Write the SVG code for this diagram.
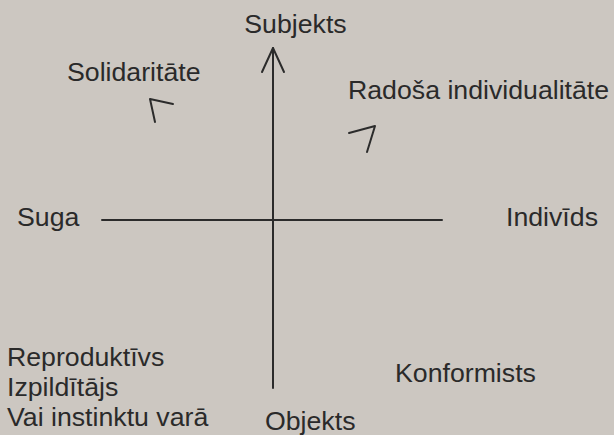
<svg xmlns="http://www.w3.org/2000/svg" width="614" height="435" viewBox="0 0 614 435">
<style>
text{font-family:"Liberation Sans",Arial,sans-serif;font-size:26.7px;fill:#2a2a2a}
.ln{stroke:#2b2b2b;stroke-width:2;fill:none;stroke-linecap:round;stroke-linejoin:round}
</style>
<rect width="614" height="435" fill="#ccc7c1"/>
<g id="connectors">
<line class="ln" x1="273" y1="388" x2="273" y2="48"/>
<polyline class="ln" points="262,72 273,48 284,72"/>
<line class="ln" x1="102" y1="220" x2="442" y2="220"/>
<polyline class="ln" points="173,104 150,99 155,122"/>
<polyline class="ln" points="349,133 375,126 367,152"/>
</g>
<g id="subjekts"><text x="295.5" y="33" text-anchor="middle">Subjekts</text></g>
<g id="solidaritate"><text x="67" y="81">Solidaritāte</text></g>
<g id="radosa"><text x="348" y="99">Radoša individualitāte</text></g>
<g id="suga"><text x="17" y="226">Suga</text></g>
<g id="individs"><text x="506" y="226">Indivīds</text></g>
<g id="reproduktivs">
<text x="7" y="366">Reproduktīvs</text>
<text x="7" y="396">Izpildītājs</text>
<text x="7" y="426">Vai instinktu varā</text>
</g>
<g id="konformists"><text x="395" y="382">Konformists</text></g>
<g id="objekts"><text x="265" y="430">Objekts</text></g>
</svg>
